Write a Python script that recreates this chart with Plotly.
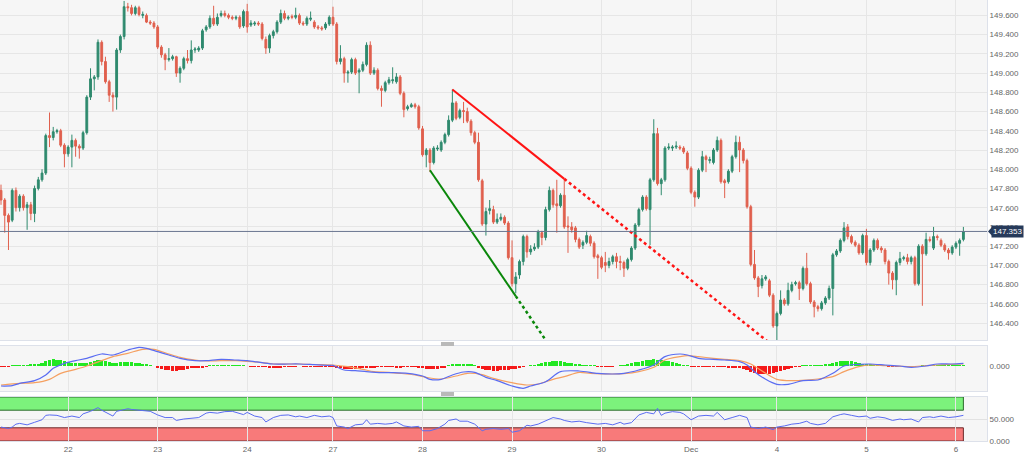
import plotly.graph_objects as go

# ---------------- data ----------------
day_tick_idx = [18, 42, 66, 89, 113, 137, 161, 185, 208, 232, 256]
day_tick_text = ["22", "23", "24", "27", "28", "29", "30", "Dec", "4", "5", "6"]
price_ticks = [146.4, 146.6, 146.8, 147.0, 147.2, 147.4, 147.6, 147.8,
               148.0, 148.2, 148.4, 148.6, 148.8, 149.0, 149.2, 149.4, 149.6]

open_ = [
147.78,147.68,147.52,147.47,147.78,147.60,147.72,147.60,147.63,147.54,
147.80,147.89,147.96,148.35,148.33,148.39,148.40,148.25,148.16,148.23,
148.30,148.24,148.22,148.38,148.75,148.94,148.96,149.32,149.12,148.91,
148.77,148.75,149.24,149.38,149.69,149.68,149.62,149.68,149.60,149.60,
149.53,149.52,149.48,149.27,149.19,149.14,149.15,149.17,149.00,149.05,
149.15,149.13,149.24,149.24,149.26,149.45,149.48,149.57,149.51,149.60,
149.62,149.60,149.58,149.57,149.58,149.49,149.64,149.50,149.51,149.52,
149.51,149.35,149.26,149.39,149.43,149.53,149.62,149.57,149.59,149.58,
149.60,149.52,149.51,149.56,149.53,149.48,149.47,149.47,149.51,149.58,
149.51,149.12,149.15,149.00,149.01,149.14,149.01,149.03,149.09,149.29,
149.00,149.03,148.84,148.82,148.90,148.92,148.91,148.96,148.79,148.63,
148.65,148.67,148.65,148.42,148.15,148.20,148.07,148.21,148.20,148.28,
148.36,148.51,148.69,148.54,148.61,148.60,148.50,148.38,148.28,147.88,
147.43,147.57,147.58,147.45,147.48,147.50,147.44,147.08,146.81,146.90,
147.04,147.30,147.14,147.17,147.19,147.34,147.29,147.58,147.78,147.64,
147.62,147.73,147.41,147.40,147.39,147.27,147.21,147.24,147.30,147.23,
147.10,147.08,147.03,147.00,147.04,147.09,147.04,147.03,146.97,147.06,
147.18,147.42,147.58,147.71,147.58,147.89,148.37,147.85,147.89,148.22,
148.22,148.23,148.23,148.22,148.17,148.01,147.76,147.71,147.99,148.13,
148.09,148.07,148.20,148.30,147.88,147.87,147.98,148.13,148.28,148.20,
148.09,147.61,147.01,146.87,146.79,146.86,146.84,146.69,146.37,146.50,
146.64,146.60,146.74,146.81,146.82,146.76,146.97,146.81,146.62,146.57,
146.55,146.61,146.66,146.76,147.11,147.15,147.26,147.40,147.30,147.24,
147.21,147.13,147.31,147.03,147.16,147.26,147.18,147.16,147.04,146.92,
146.85,147.03,147.07,147.08,147.04,147.08,146.81,147.20,147.12,147.27,
147.18,147.30,147.26,147.21,147.16,147.13,147.19,147.23,147.27]

high = [
147.84,147.70,147.54,147.80,147.81,147.74,147.74,147.66,147.66,147.83,
147.92,148.00,148.37,148.59,148.44,148.42,148.42,148.27,148.25,148.36,
148.32,148.26,148.40,148.77,149.05,148.98,149.35,149.34,149.17,148.93,
148.80,149.26,149.40,149.75,149.73,149.71,149.70,149.70,149.64,149.62,
149.55,149.54,149.50,149.29,149.21,149.26,149.19,149.18,149.07,149.17,
149.24,149.34,149.27,149.28,149.46,149.50,149.60,149.70,149.62,149.65,
149.65,149.62,149.60,149.60,149.60,149.66,149.72,149.55,149.54,149.54,
149.53,149.38,149.41,149.45,149.55,149.66,149.65,149.60,149.61,149.68,
149.62,149.54,149.59,149.64,149.55,149.50,149.49,149.53,149.60,149.69,
149.53,149.29,149.17,149.03,149.16,149.16,149.05,149.12,149.32,149.33,
149.06,149.05,148.87,148.92,148.96,149.06,149.00,148.98,148.81,148.67,
148.69,148.69,148.67,148.45,148.22,148.22,148.24,148.25,148.30,148.38,
148.56,148.83,148.71,148.63,148.70,148.64,148.52,148.40,148.38,147.90,
147.60,147.68,147.62,147.54,147.54,147.52,147.46,147.26,146.93,147.06,
147.32,147.32,147.21,147.23,147.37,147.36,147.61,147.82,147.80,147.89,
147.75,147.89,147.51,147.45,147.41,147.29,147.26,147.36,147.32,147.25,
147.12,147.10,147.14,147.08,147.11,147.13,147.10,147.05,147.08,147.20,
147.44,147.60,147.73,147.73,147.91,148.52,148.43,147.91,148.24,148.27,
148.25,148.29,148.25,148.24,148.19,148.03,147.78,148.01,148.19,148.15,
148.13,148.22,148.34,148.32,147.90,148.00,148.15,148.35,148.34,148.22,
148.11,147.63,147.16,146.89,146.90,146.90,146.86,146.71,146.52,146.74,
146.66,146.82,146.83,146.84,146.84,146.99,147.13,146.83,146.64,146.59,
146.63,146.68,146.79,147.13,147.17,147.28,147.45,147.43,147.32,147.26,
147.23,147.33,147.38,147.18,147.28,147.28,147.20,147.18,147.06,146.94,
147.05,147.14,147.10,147.12,147.10,147.10,147.22,147.22,147.34,147.30,
147.40,147.32,147.28,147.23,147.18,147.21,147.25,147.28,147.40]

low = [
147.63,147.34,147.16,147.45,147.56,147.56,147.57,147.37,147.47,147.45,
147.78,147.87,147.94,148.23,148.30,148.37,148.23,148.02,148.13,148.02,
148.13,148.11,148.20,148.36,148.72,148.82,148.93,149.08,148.89,148.70,
148.60,148.62,149.21,149.35,149.64,149.60,149.60,149.59,149.57,149.52,
149.50,149.46,149.25,149.16,149.03,149.12,149.13,148.96,148.90,149.03,
149.10,149.10,149.21,149.22,149.24,149.43,149.46,149.49,149.49,149.58,
149.58,149.56,149.55,149.55,149.46,149.47,149.42,149.48,149.49,149.49,
149.34,149.20,149.21,149.36,149.41,149.51,149.55,149.55,149.56,149.56,
149.50,149.49,149.49,149.54,149.46,149.45,149.44,149.45,149.49,149.49,
149.09,149.09,148.90,148.90,148.99,148.98,148.79,149.01,149.07,148.98,
148.98,148.82,148.65,148.80,148.88,148.89,148.89,148.77,148.54,148.61,
148.64,148.63,148.41,148.13,148.02,147.97,148.05,148.19,148.18,148.26,
148.34,148.49,148.51,148.52,148.48,148.48,148.35,148.26,147.87,147.41,
147.31,147.53,147.43,147.43,147.46,147.42,147.06,146.78,146.71,146.86,
147.00,147.08,147.11,147.15,147.17,147.21,147.26,147.56,147.60,147.34,
147.60,147.38,147.13,147.34,147.24,147.17,147.17,147.22,147.20,147.07,
146.86,146.96,146.93,146.97,147.01,146.97,146.95,146.88,146.95,147.04,
147.16,147.40,147.56,147.57,147.21,147.87,147.83,147.73,147.87,148.20,
148.19,148.21,148.20,148.16,147.99,147.74,147.61,147.69,147.97,147.97,
148.06,148.05,148.18,147.85,147.70,147.85,147.96,148.11,147.97,148.06,
147.59,146.99,146.85,146.67,146.76,146.84,146.67,146.35,146.22,146.48,
146.58,146.58,146.72,146.79,146.64,146.74,146.79,146.60,146.46,146.52,
146.53,146.59,146.64,146.48,147.09,147.13,147.24,147.27,147.22,147.19,
147.11,147.11,147.00,147.00,147.14,147.16,147.13,147.01,146.80,146.75,
146.69,147.00,147.05,147.01,147.01,146.79,146.79,146.58,147.10,147.24,
147.16,147.26,147.19,147.14,147.06,147.11,147.17,147.10,147.25]

close = [
147.68,147.52,147.45,147.78,147.60,147.72,147.60,147.63,147.54,147.80,
147.89,147.96,148.35,148.33,148.39,148.40,148.25,148.16,148.23,148.30,
148.24,148.22,148.38,148.75,148.94,148.96,149.32,149.12,148.91,148.77,
148.75,149.24,149.38,149.69,149.68,149.62,149.68,149.61,149.61,149.53,
149.52,149.48,149.27,149.19,149.14,149.15,149.17,149.00,149.05,149.15,
149.13,149.24,149.25,149.26,149.44,149.48,149.57,149.51,149.58,149.62,
149.60,149.58,149.57,149.58,149.48,149.64,149.48,149.52,149.52,149.51,
149.36,149.26,149.39,149.43,149.53,149.62,149.57,149.58,149.58,149.60,
149.52,149.51,149.57,149.57,149.48,149.47,149.46,149.51,149.58,149.51,
149.12,149.15,149.00,149.01,149.14,149.00,149.03,149.09,149.29,149.00,
149.03,148.84,148.82,148.90,148.93,148.93,148.96,148.79,148.62,148.65,
148.67,148.65,148.43,148.15,148.20,148.07,148.22,148.22,148.28,148.36,
148.51,148.69,148.53,148.61,148.60,148.50,148.38,148.28,147.89,147.43,
147.56,147.59,147.45,147.48,147.50,147.44,147.08,146.81,146.88,147.04,
147.30,147.14,147.17,147.19,147.35,147.29,147.58,147.78,147.63,147.62,
147.73,147.40,147.40,147.37,147.27,147.19,147.24,147.31,147.23,147.09,
147.08,146.98,147.00,147.04,147.09,147.04,147.03,146.97,147.06,147.18,
147.42,147.58,147.71,147.59,147.89,148.37,147.85,147.89,148.22,148.23,
148.23,148.24,148.22,148.18,148.01,147.76,147.71,147.99,148.13,148.10,
148.10,148.20,148.30,147.87,147.86,147.98,148.13,148.28,148.20,148.09,
147.61,147.01,146.87,146.78,146.86,146.88,146.69,146.37,146.50,146.64,
146.60,146.74,146.80,146.82,146.76,146.97,146.81,146.62,146.57,146.55,
146.61,146.66,146.76,147.11,147.15,147.26,147.39,147.30,147.24,147.21,
147.13,147.31,147.03,147.16,147.26,147.18,147.16,147.04,146.92,146.85,
147.03,147.07,147.08,147.04,147.08,146.81,147.20,147.12,147.27,147.26,
147.30,147.29,147.21,147.16,147.13,147.19,147.23,147.26,147.35]

last_price = 147.353

macd_hist = [
-0.01,-0.01,-0.005,
0.005,0.01,0.01,0.015,0.015,0.02,0.025,0.03,
0.05,0.07,0.09,0.1,0.095,0.085,0.07,0.06,
0.05,0.045,0.04,0.04,0.05,
0.065,0.08,0.09,0.085,0.07,0.055,
0.045,0.05,0.055,0.06,0.06,0.055,0.05,0.045,0.035,0.02,0.01,
0.0,
-0.02,-0.04,-0.055,-0.065,-0.07,-0.07,-0.065,-0.055,-0.045,
-0.035,-0.03,-0.025,-0.02,-0.01,
0.005,0.01,0.01,0.015,0.015,0.015,0.015,0.01,0.01,0.005,0.0,
-0.005,-0.01,-0.01,-0.01,-0.015,
-0.02,-0.025,-0.025,-0.02,
-0.01,-0.01,-0.005,-0.005,0.0,-0.005,-0.005,-0.01,-0.01,-0.005,-0.005,-0.005,-0.01,-0.01,
-0.025,-0.035,-0.045,-0.05,-0.05,-0.045,-0.04,-0.035,-0.03,
-0.02,-0.02,-0.015,-0.015,-0.01,-0.015,-0.015,-0.02,-0.02,-0.015,-0.01,-0.01,-0.015,-0.02,
-0.03,-0.04,-0.05,-0.05,-0.045,-0.035,-0.02,
0.01,0.02,0.025,0.03,0.03,0.025,0.02,0.01,
-0.02,-0.04,-0.055,-0.065,-0.07,-0.07,-0.065,-0.06,-0.055,-0.05,
-0.05,-0.03,-0.015,
0.0,0.005,
0.015,0.025,0.04,0.055,0.065,0.07,0.075,0.07,0.06,0.05,0.04,0.03,0.02,0.015,
0.01,0.005,0.005,
-0.005,-0.01,-0.01,-0.01,-0.005,0.0,
0.005,0.015,0.03,0.045,0.055,0.065,
0.075,0.085,0.095,0.1,0.095,0.09,0.08,0.07,0.06,0.045,0.03,
0.015,0.005,
-0.005,-0.01,-0.015,-0.015,-0.015,-0.01,
-0.005,-0.005,-0.01,-0.015,
-0.02,-0.02,-0.025,-0.03,-0.04,
-0.06,-0.085,-0.105,-0.12,-0.125,-0.125,-0.12,-0.11,-0.095,-0.075,-0.055,
-0.04,-0.025,-0.015,-0.005,
0.005,0.01,0.01,0.015,0.015,0.015,0.02,0.025,
0.04,0.055,0.07,0.08,0.08,0.075,0.065,0.05,0.035,0.025,
0.02,0.015,0.015,0.01,0.005,
-0.005,-0.01,-0.01,-0.01,-0.01,-0.005,-0.005,-0.005,0.0,
0.005,0.005,0.01,0.01,0.015,0.015,0.015,0.015,0.01,0.01,0.015,0.015]

macd_idx = [0,3,5,9,12,14,17,20,23,27,30,34,37,39,42,45,48,52,55,59,
            63,66,70,73,77,80,84,88,89,92,95,98,102,105,109,113,115,118,121,124,
            127,130,133,137,140,142,146,150,155,160,164,167,171,175,178,182,184,187,191,194,
            198,200,202,205,208,211,215,219,223,226,230,233,237,241,244,248,251,255,258]
macd_line = [-0.30,-0.295,-0.26,-0.22,-0.135,-0.035,0.04,0.08,0.115,0.18,
             0.165,0.24,0.28,0.265,0.215,0.165,0.115,0.08,0.08,0.10,
             0.09,0.08,0.05,0.03,0.03,0.03,0.02,0.01,0.01,-0.06,
             -0.07,-0.085,-0.10,-0.10,-0.11,-0.15,-0.20,-0.20,-0.135,-0.09,
             -0.095,-0.17,-0.22,-0.30,-0.335,-0.30,-0.235,-0.085,-0.075,-0.11,
             -0.12,-0.11,-0.06,0.015,0.14,0.18,0.165,0.115,0.10,0.09,
             0.065,0.015,-0.085,-0.20,-0.275,-0.275,-0.22,-0.21,-0.11,0.0,
             0.025,0.03,0.015,0.0,-0.02,0.0,0.03,0.03,0.04]

signal_idx = [0,5,9,13,16,20,23,27,30,34,38,41,45,48,52,55,59,63,66,70,
              73,77,80,86,89,93,97,100,104,107,111,114,118,122,125,129,132,137,141,144,
              148,151,155,158,164,167,171,175,178,182,184,187,191,194,198,201,205,208,212,216,
              219,223,226,230,233,237,241,244,248,251,255,258]
signal_line = [-0.285,-0.26,-0.25,-0.20,-0.11,-0.05,0.0,0.08,0.14,0.19,
               0.25,0.25,0.18,0.13,0.09,0.075,0.08,0.08,0.07,0.05,
               0.03,0.03,0.03,0.02,0.015,-0.01,-0.05,-0.085,-0.095,-0.11,
               -0.135,-0.17,-0.195,-0.15,-0.11,-0.13,-0.185,-0.25,-0.285,-0.27,
               -0.20,-0.16,-0.095,-0.11,-0.12,-0.115,-0.085,-0.02,0.09,0.14,
               0.155,0.14,0.115,0.10,0.08,0.03,-0.11,-0.20,-0.22,-0.21,
               -0.195,-0.16,-0.085,-0.01,0.015,0.005,-0.005,-0.01,0.005,0.015,
               0.025,0.03]

rsi_idx = [0,2,3,4,5,7,9,11,12,13,15,17,18,19,21,22,24,25,26,27,
           29,30,31,32,34,35,37,38,40,42,44,46,47,49,51,53,55,56,58,60,
           62,63,65,66,68,70,71,73,75,77,79,80,82,84,86,88,89,90,92,93,
           95,97,98,99,101,103,105,106,108,110,112,113,115,117,119,120,122,123,125,127,
           129,130,132,134,136,137,139,141,142,144,146,148,150,151,153,155,157,158,160,162,
           164,166,167,169,171,173,175,176,177,178,180,182,183,185,187,189,191,192,194,196,
           198,200,201,203,205,207,208,210,212,214,216,217,219,221,223,225,226,228,230,232,
           233,235,237,239,241,242,244,246,247,249,250,252,254,256,258]
rsi_val = [31.7,28.3,31.7,38.3,40,36.7,42.5,48.3,58.3,59.2,58.3,53.3,55,56.7,53.3,61.7,67.5,71.7,75.8,70,
           61.7,56.7,67.5,70,73.3,71.7,70,68.3,67.5,59.2,53.3,53.3,46.7,50,51.7,53.3,63.3,65,63.3,66.7,
           67.5,65,60,65,56.7,53.3,43.3,53.3,58.3,59.2,55,56.7,53.3,58.3,55,56.7,53.3,34.2,31.7,28.3,
           36.7,38.3,48.3,38.3,40,38.3,40,43.3,34.2,31.7,33.3,23.3,23.3,28.3,38.3,46.7,50,45,45,38.3,
           23.3,26.7,28.3,26.7,28.3,20,23.3,35.8,34.2,38.3,46.7,53.3,50,46.7,43.3,45,41.7,40,38.3,40,
           36.7,42.5,38.3,41.7,59.2,65,61.7,74.2,58.3,63.3,66.7,65,61.7,48.3,56.7,58.3,56.7,65,48.3,53.3,
           58.3,53.3,31.7,28.3,31.7,25.8,31.7,34.2,38.3,40,45,40,36.7,40,55,60,61.7,58.3,55,56.7,
           51.7,55,52.5,46.7,50,48.3,50,43.3,53.3,55,53.3,56.7,53.3,55,58.3]
rsi_upper = 70
rsi_lower = 30

red_trend_idx = [121, 151]
red_trend_px = [148.83, 147.90]
red_ext_idx = [151, 210]
red_ext_px = [147.90, 146.07]
green_trend_idx = [115, 138]
green_trend_px = [147.99, 146.68]
green_ext_idx = [138, 148]
green_ext_px = [146.68, 146.11]

# ---------------- styling ----------------
UP = "#2f8a6e"
DOWN = "#e0604e"
GRID = "#e6e6e6"
BORDER = "#dde1ea"
BG = "#f6f6f6"
TICKFONT = dict(family="Liberation Sans, Arial, sans-serif", size=8, color="#666666")

n = min(len(open_), len(high), len(low), len(close))
idx = list(range(n))
hn = len(macd_hist)

XDOM = [0, 987 / 1024]
XR = [-0.27, 264.33]

fig = go.Figure()

fig.add_trace(go.Candlestick(
    x=idx, open=open_[:n], high=high[:n], low=low[:n], close=close[:n],
    increasing=dict(line=dict(color=UP, width=1), fillcolor=UP),
    decreasing=dict(line=dict(color=DOWN, width=1), fillcolor=DOWN),
    whiskerwidth=0, showlegend=False, hoverinfo="skip",
    xaxis="x", yaxis="y"))

# trend lines
fig.add_trace(go.Scatter(x=red_trend_idx, y=red_trend_px, mode="lines",
                         line=dict(color="#ff1414", width=2), showlegend=False,
                         hoverinfo="skip", xaxis="x", yaxis="y"))
fig.add_trace(go.Scatter(x=red_ext_idx, y=red_ext_px, mode="lines",
                         line=dict(color="#ff1414", width=2.5, dash="3px,3px"),
                         showlegend=False, hoverinfo="skip", xaxis="x", yaxis="y"))
fig.add_trace(go.Scatter(x=green_trend_idx, y=green_trend_px, mode="lines",
                         line=dict(color="#0a870a", width=2), showlegend=False,
                         hoverinfo="skip", xaxis="x", yaxis="y"))
fig.add_trace(go.Scatter(x=green_ext_idx, y=green_ext_px, mode="lines",
                         line=dict(color="#0a870a", width=2.5, dash="3px,3px"),
                         showlegend=False, hoverinfo="skip", xaxis="x", yaxis="y"))

# MACD panel
fig.add_trace(go.Bar(x=list(range(hn)), y=macd_hist,
                     marker=dict(color=["#22e822" if v >= 0 else "#f51a1a" for v in macd_hist],
                                 line=dict(width=0)),
                     width=0.85, showlegend=False, hoverinfo="skip",
                     xaxis="x2", yaxis="y2"))
fig.add_trace(go.Scatter(x=signal_idx, y=signal_line, mode="lines",
                         line=dict(color="#f5a061", width=1.2, shape="spline", smoothing=0.8),
                         showlegend=False, hoverinfo="skip", xaxis="x2", yaxis="y2"))
fig.add_trace(go.Scatter(x=macd_idx, y=macd_line, mode="lines",
                         line=dict(color="#5a6cf2", width=1.2, shape="spline", smoothing=0.8),
                         showlegend=False, hoverinfo="skip", xaxis="x2", yaxis="y2"))

# RSI panel
fig.add_trace(go.Scatter(x=rsi_idx, y=rsi_val, mode="lines",
                         line=dict(color="#5a6cf2", width=1),
                         showlegend=False, hoverinfo="skip", xaxis="x3", yaxis="y3"))

shapes = [
    dict(type="rect", xref="x3", yref="y3", x0=-5, x1=n - 1, y0=rsi_upper, y1=100,
         fillcolor="#7cf27c", line=dict(color="#2c6a2c", width=1), layer="below"),
    dict(type="rect", xref="x3", yref="y3", x0=-5, x1=n - 1, y0=0, y1=rsi_lower,
         fillcolor="#f87a7a", line=dict(color="#6e2c2c", width=1), layer="below"),
    dict(type="line", xref="x domain", yref="y", x0=0, x1=1, y0=last_price, y1=last_price,
         line=dict(color="#6a7590", width=1)),
    # scrollbar handles between panels
    dict(type="rect", xref="paper", yref="paper", x0=441 / 1024, x1=454 / 1024,
         y0=(441 - 346) / 441, y1=(441 - 342) / 441, fillcolor="#b9b9b9", line=dict(width=0)),
    dict(type="rect", xref="paper", yref="paper", x0=441 / 1024, x1=454 / 1024,
         y0=(441 - 396) / 441, y1=(441 - 392) / 441, fillcolor="#b9b9b9", line=dict(width=0)),
    # price label arrow
    dict(type="path", xref="paper", yref="y",
         path=f"M {988/1024},{last_price} L {992/1024},{last_price + 0.045} L {992/1024},{last_price - 0.045} Z",
         fillcolor="#263a5a", line=dict(width=0)),
]

common_x = dict(range=XR, domain=XDOM, tickvals=day_tick_idx, ticktext=day_tick_text,
                showgrid=True, gridcolor=GRID, gridwidth=1, zeroline=False,
                showline=True, linecolor=BORDER, linewidth=1, mirror=True,
                ticks="", tickfont=TICKFONT, fixedrange=True)

fig.update_layout(
    width=1024, height=455, autosize=False,
    margin=dict(l=0, r=0, t=0, b=14),
    paper_bgcolor="#ffffff", plot_bgcolor=BG,
    showlegend=False, bargap=0,
    xaxis=dict(**common_x, anchor="y", showticklabels=False, rangeslider=dict(visible=False)),
    xaxis2=dict(**common_x, anchor="y2", showticklabels=False, matches="x"),
    xaxis3=dict(**common_x, anchor="y3", showticklabels=True, matches="x"),
    yaxis=dict(domain=[1 - 340 / 441, 1], range=[146.224, 149.76], side="right",
               tickvals=price_ticks, tickformat=".3f", showgrid=True, gridcolor=GRID,
               zeroline=False, showline=True, linecolor=BORDER, mirror=True, ticks="",
               tickfont=TICKFONT, anchor="x", automargin=False, fixedrange=True),
    yaxis2=dict(domain=[1 - 391 / 441, 1 - 346 / 441], range=[-0.375, 0.30], side="right",
                tickvals=[0], tickformat=".3f", showgrid=False, zeroline=False,
                showline=True, linecolor=BORDER, mirror=True, ticks="",
                tickfont=TICKFONT, anchor="x2", automargin=False, fixedrange=True),
    yaxis3=dict(domain=[0, 1 - 397 / 441], range=[0, 100], side="right",
                tickvals=[0, 50], tickformat=".3f", showgrid=True, gridcolor="#e2e2e2",
                zeroline=False, showline=True, linecolor=BORDER, mirror=True, ticks="",
                tickfont=TICKFONT, anchor="x3", automargin=False, fixedrange=True),
    shapes=shapes,
    annotations=[dict(xref="paper", yref="y", x=1.0, y=last_price, xanchor="right",
                      yanchor="middle", text=f"{last_price:.3f}", showarrow=False,
                      font=dict(family="Liberation Sans, Arial, sans-serif", size=8,
                                color="#ffffff"),
                      bgcolor="#263a5a", borderpad=1)],
)

fig.write_html(
    "out.html",
    config={"displayModeBar": False},
    post_script="document.body.style.margin='0px';document.body.style.padding='0px';"
                "document.body.style.overflow='hidden';",
)
